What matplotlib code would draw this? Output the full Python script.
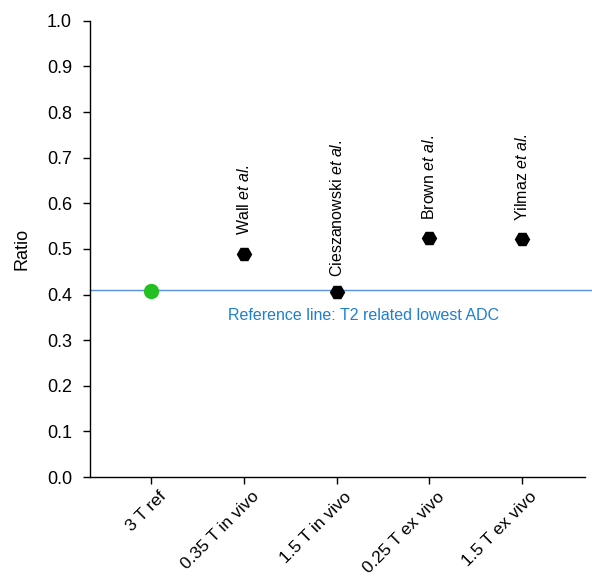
import matplotlib
matplotlib.use("Agg")
import matplotlib.pyplot as plt
import matplotlib.transforms as mtransforms

plt.rcParams['font.family'] = ['Liberation Sans', 'DejaVu Sans']
plt.rcParams['mathtext.fontset'] = 'custom'
plt.rcParams['mathtext.rm'] = 'Liberation Sans'
plt.rcParams['mathtext.it'] = 'Liberation Sans:italic'

categories = ["3 T ref", "0.35 T in vivo", "1.5 T in vivo", "0.25 T ex vivo", "1.5 T ex vivo"]
ref_value = 0.408
study_values = [0.488, 0.405, 0.525, 0.521]
study_labels = [r"Wall $\mathit{et\ al.}$", r"Cieszanowski $\mathit{et\ al.}$",
                r"Brown $\mathit{et\ al.}$", r"Yilmaz $\mathit{et\ al.}$"]
ref_line = 0.410
yticks = [0.0, 0.1, 0.2, 0.3, 0.4, 0.5, 0.6, 0.7, 0.8, 0.9, 1.0]

fig = plt.figure(figsize=(5.92, 5.79), dpi=100)
ax = fig.add_axes([0.152, 0.176, 0.836, 0.788])

ax.axhline(ref_line, xmin=0, xmax=1.016, color='#5b8ee0', lw=1.0, clip_on=False, zorder=1)
ax.plot([0], [ref_value], 'o', color='#22c022', ms=10, zorder=3)
xs = list(range(1, len(study_values) + 1))
ax.plot(xs, study_values, 'H', color='black', ms=10, ls='none', zorder=3)

offsets = [14, 11, 13, 13]
for x, v, lab, off in zip(xs, study_values, study_labels, offsets):
    ax.annotate(lab, (x, v), xytext=(0, off), textcoords='offset points',
                rotation=90, ha='center', va='bottom', fontsize=11.5, color='black')

ax.text(2.29, 0.355, "Reference line: T2 related lowest ADC", color='#1f7fd0',
        fontsize=11.5, ha='center', va='center')

ax.set_xlim(-0.66, 4.68)
ax.set_ylim(0, 1.0)
ax.set_yticks(yticks)
ax.set_yticklabels([f"{t:.1f}" for t in yticks])
ax.set_xticks(range(len(categories)))
ax.set_xticklabels(categories, rotation=45, ha='right', rotation_mode='anchor')
ax.set_ylabel("Ratio", fontsize=13, labelpad=12)
ax.tick_params(axis='y', labelsize=13, length=5, width=1, colors='black', direction='out', pad=8)
ax.tick_params(axis='x', labelsize=12.5, length=5, width=1, colors='black', direction='out', pad=6)
shift = mtransforms.ScaledTranslation(5.5 / 72, 2.5 / 72, fig.dpi_scale_trans)
for lbl in ax.get_xticklabels():
    lbl.set_transform(lbl.get_transform() + shift)
for s in ['top', 'right']:
    ax.spines[s].set_visible(False)
for s in ['left', 'bottom']:
    ax.spines[s].set_linewidth(1.0)

fig.savefig("out.png", dpi=100)
